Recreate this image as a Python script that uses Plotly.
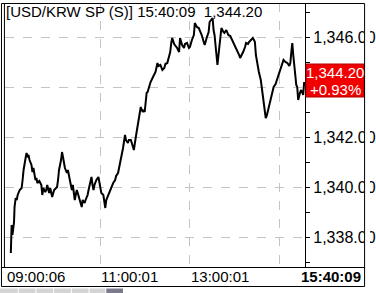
import plotly.graph_objects as go

# ---- data (minutes after 09:00, price) ----
minutes = [0.0, 0.7, 1.1, 2.2, 2.9, 4.3, 5.0, 6.5, 7.9, 9.2, 11.9, 14.5, 15.8, 17.1, 19.8, 21.1, 22.4, 23.7,
           25.1, 27.7, 29.0, 30.3, 33.0, 34.3, 35.6, 38.2, 40.9, 42.2, 43.5, 46.2, 47.5, 48.8, 51.4, 52.8,
           55.4, 56.7, 58.0, 60.7, 62.0, 63.3, 64.6, 67.3, 68.6, 69.9, 71.2, 72.5, 75.2, 76.5, 79.1, 80.4,
           81.8, 83.1, 85.7, 87.0, 88.4, 89.7, 92.3, 95.0, 96.3, 98.9, 100.2, 102.9, 104.2, 106.8, 108.1,
           109.5, 110.8, 112.1, 114.7, 117.4, 118.7, 121.3, 124.0, 126.6, 127.9, 130.6, 133.2, 134.5, 137.2,
           139.8, 141.1, 143.7, 145.1, 147.7, 150.4, 153.0, 154.3, 156.9, 158.3, 160.9, 163.5, 164.9, 167.5,
           170.1, 171.4, 174.1, 176.7, 178.0, 179.4, 182.0, 183.3, 186.0, 187.3, 189.9, 192.5, 193.9, 196.5,
           197.8, 200.5, 203.1, 205.7, 207.1, 209.7, 212.3, 213.6, 215.0, 216.3, 218.9, 220.2, 222.9, 225.5,
           226.8, 229.5, 232.1, 233.4, 236.1, 238.7, 240.0, 242.7, 245.3, 246.6, 249.3, 251.9, 254.5, 255.8,
           258.5, 259.8, 262.4, 265.1, 266.4, 269.0, 270.4, 271.7, 273.0, 274.3, 275.6, 276.9, 278.3, 279.6,
           280.9, 282.2, 284.9, 286.2, 288.8, 291.5, 294.1, 295.4, 298.1, 299.4, 302.0, 304.6, 306.0, 307.3,
           309.9, 311.3, 313.9, 315.2, 317.9, 319.2, 321.8, 324.4, 325.8, 327.1, 328.4, 329.7, 331.0, 332.4,
           335.0, 336.3, 337.6, 339.0, 340.3, 341.6, 342.9, 344.2, 345.6, 346.9, 348.2, 350.8, 352.2, 354.8,
           357.5, 358.8, 361.4, 362.7, 365.4, 368.0, 370.6, 373.2, 374.6, 375.9, 377.2, 378.5, 379.9, 381.2,
           382.5, 383.8, 385.1, 386.5, 387.8, 389.1, 390.4, 391.8, 393.1]
prices = [1337.36, 1337.88, 1338.48, 1338.08, 1338.28, 1338.60, 1339.20, 1339.56, 1339.48, 1339.68, 1339.88,
          1339.96, 1340.28, 1340.68, 1341.16, 1341.36, 1341.24, 1341.28, 1341.08, 1340.88, 1340.60, 1340.76,
          1340.28, 1340.36, 1340.16, 1340.24, 1340.08, 1339.68, 1339.96, 1339.80, 1339.88, 1340.08, 1339.76,
          1339.96, 1339.60, 1339.80, 1339.88, 1339.96, 1340.00, 1340.28, 1340.68, 1341.08, 1341.40, 1341.20,
          1341.00, 1340.76, 1340.56, 1340.68, 1340.28, 1340.08, 1339.88, 1340.08, 1339.48, 1339.68, 1339.88,
          1339.76, 1339.48, 1339.20, 1339.48, 1339.36, 1339.48, 1339.68, 1339.88, 1340.16, 1340.40, 1340.08,
          1339.88, 1340.08, 1340.28, 1340.40, 1340.20, 1339.76, 1339.68, 1339.16, 1339.48, 1339.68, 1339.88,
          1340.00, 1340.16, 1340.28, 1340.44, 1340.56, 1340.76, 1341.16, 1341.56, 1342.08, 1341.88, 1341.76,
          1341.88, 1341.88, 1341.60, 1341.48, 1342.00, 1342.48, 1342.80, 1343.20, 1343.00, 1343.08, 1343.00,
          1343.76, 1343.80, 1344.08, 1344.20, 1344.36, 1344.48, 1344.60, 1344.96, 1344.84, 1344.88, 1344.68,
          1344.76, 1344.92, 1344.96, 1345.20, 1345.40, 1345.76, 1345.96, 1345.72, 1345.68, 1345.56, 1345.40,
          1345.96, 1345.68, 1345.56, 1345.72, 1345.76, 1345.56, 1345.60, 1345.88, 1346.08, 1346.56, 1346.40,
          1346.36, 1346.20, 1346.08, 1345.80, 1345.68, 1345.96, 1346.20, 1346.60, 1346.68, 1346.76, 1346.28,
          1346.08, 1345.68, 1345.28, 1344.88, 1345.28, 1345.68, 1346.08, 1346.36, 1346.20, 1346.16, 1346.28,
          1346.08, 1346.04, 1345.96, 1345.80, 1345.68, 1345.56, 1345.40, 1345.28, 1345.16, 1345.28, 1345.40,
          1345.60, 1345.76, 1345.72, 1345.80, 1345.88, 1345.96, 1345.88, 1345.80, 1345.28, 1345.00, 1344.84,
          1344.60, 1344.28, 1344.00, 1343.68, 1343.28, 1343.00, 1342.76, 1342.84, 1343.00, 1343.08, 1343.32,
          1343.48, 1343.80, 1344.00, 1344.12, 1344.36, 1344.44, 1344.68, 1344.76, 1345.08, 1345.00, 1344.96,
          1344.84, 1344.96, 1345.40, 1345.76, 1345.28, 1344.96, 1344.48, 1344.08, 1344.00, 1343.48, 1343.68,
          1343.80, 1343.88, 1343.76, 1343.68, 1344.20]

y_tick_vals = [1338, 1340, 1342, 1344, 1346]
y_tick_text = ["1,338.00", "1,340.00", "1,342.00", "", "1,346.00"]  # 1,344 label hidden by price box
y_minor_vals = [1337, 1339, 1341, 1343, 1345, 1347]
x_grid_vals = [120, 240, 360]
x_labels = [(120, "11:00:01"), (240, "13:00:01")]
title_text = "[USD/KRW SP (S)] 15:40:09  1,344.20"
last_price_text = "1,344.20"
change_text = "+0.93%"
start_label = "09:00:06"
end_label = "15:40:09"

W, H = 376, 293
FONT = "Liberation Sans, Arial, sans-serif"


def px(x):
    return x / W


def py(y):
    return 1 - y / H


fig = go.Figure()
fig.add_trace(go.Scatter(x=minutes, y=prices, mode="lines",
                         line=dict(color="black", width=2), hoverinfo="skip"))

fig.update_layout(
    width=W, height=H, margin=dict(l=0, r=0, t=0, b=0),
    paper_bgcolor="white", plot_bgcolor="white", showlegend=False,
    font=dict(family=FONT, color="black"),
    xaxis=dict(domain=[px(5), px(310)], range=[-7.9, 394.3], tickvals=x_grid_vals,
               showticklabels=False, ticks="", showgrid=True, gridcolor="#c4c4c4",
               griddash="dash", gridwidth=1, zeroline=False, showline=False, fixedrange=True),
    yaxis=dict(domain=[py(267), py(3)], range=[1336.80, 1347.36], side="right",
               tickmode="array", tickvals=y_tick_vals, ticktext=y_tick_text,
               ticks="outside", ticklen=4, tickcolor="black", tickwidth=1,
               tickfont=dict(family=FONT, size=16, color="black"),
               showline=True, linecolor="black", linewidth=1,
               showgrid=True, gridcolor="#c4c4c4", griddash="dash", gridwidth=1,
               zeroline=False, fixedrange=True,
               minor=dict(tickmode="array", tickvals=y_minor_vals, ticks="outside",
                          ticklen=4, tickcolor="black", showgrid=False)),
)

shapes = []
# clip tick labels at right frame
shapes.append(dict(type="rect", xref="paper", yref="paper", x0=px(370), x1=1, y0=0, y1=1,
                   fillcolor="white", line=dict(width=0), layer="above"))
# bottom strip white beneath plot
shapes.append(dict(type="rect", xref="paper", yref="paper", x0=0, x1=1, y0=0, y1=py(286.5),
                   fillcolor="white", line=dict(width=0), layer="above"))
# red last-price box
shapes.append(dict(type="rect", xref="paper", yref="paper", x0=px(311), x1=px(370),
                   y0=py(97), y1=py(64), fillcolor="#f20000",
                   line=dict(color="#b00000", width=1), layer="above"))
# frame lines
line_style = dict(color="black", width=1)
for (x0, y0, x1, y1) in [
    (1.5, 3.5, 370.5, 3.5),     # top
    (1.5, 3.5, 1.5, 286.5),     # outer left
    (4.5, 3.5, 4.5, 267.5),     # inner left
    (370.5, 3.5, 370.5, 286.5),  # right
    (1.5, 286.5, 370.5, 286.5),  # bottom
    (1.5, 267.5, 370.5, 267.5),  # separator above time strip
]:
    shapes.append(dict(type="line", xref="paper", yref="paper",
                       x0=px(x0), y0=py(y0), x1=px(x1), y1=py(y1), line=line_style, layer="above"))
# small tabs at the very bottom
for (a, b, c) in [(0, 18, "#d4d4d4"), (19, 36, "#d4d4d4"), (37, 54, "#d4d4d4"),
                  (55, 72, "#d4d4d4"), (73, 90, "#d4d4d4"), (91, 107, "#d4d4d4"),
                  (108, 125, "#7a7a8c")]:
    shapes.append(dict(type="rect", xref="paper", yref="paper", x0=px(a), x1=px(b),
                       y0=0, y1=py(288.5), fillcolor=c, line=dict(width=0), layer="above"))
fig.update_layout(shapes=shapes)

ann = []
ann.append(dict(text=title_text, xref="paper", yref="paper", x=px(4), y=py(12), xanchor="left",
                yanchor="middle", showarrow=False, font=dict(family=FONT, size=15, color="black")))
ann.append(dict(text=start_label, xref="paper", yref="paper", x=px(5), y=py(276.5), xanchor="left",
                yanchor="middle", showarrow=False, font=dict(family=FONT, size=15, color="black")))
for t, lab in x_labels:
    ann.append(dict(text=lab, xref="x", yref="paper", x=t, y=py(276.5), xanchor="left",
                    yanchor="middle", showarrow=False, xshift=-1,
                    font=dict(family=FONT, size=15, color="black")))
ann.append(dict(text="<b>" + end_label + "</b>", xref="paper", yref="paper", x=px(369), y=py(276.5),
                xanchor="right", yanchor="middle", showarrow=False,
                font=dict(family=FONT, size=15, color="black")))
ann.append(dict(text=last_price_text, xref="paper", yref="paper", x=px(340.5), y=py(72.5),
                xanchor="center", yanchor="middle", showarrow=False,
                font=dict(family=FONT, size=15, color="white")))
ann.append(dict(text=change_text, xref="paper", yref="paper", x=px(341), y=py(89),
                xanchor="center", yanchor="middle", showarrow=False,
                font=dict(family=FONT, size=15, color="white")))
fig.update_layout(annotations=ann)

fig.write_html("out.html")
